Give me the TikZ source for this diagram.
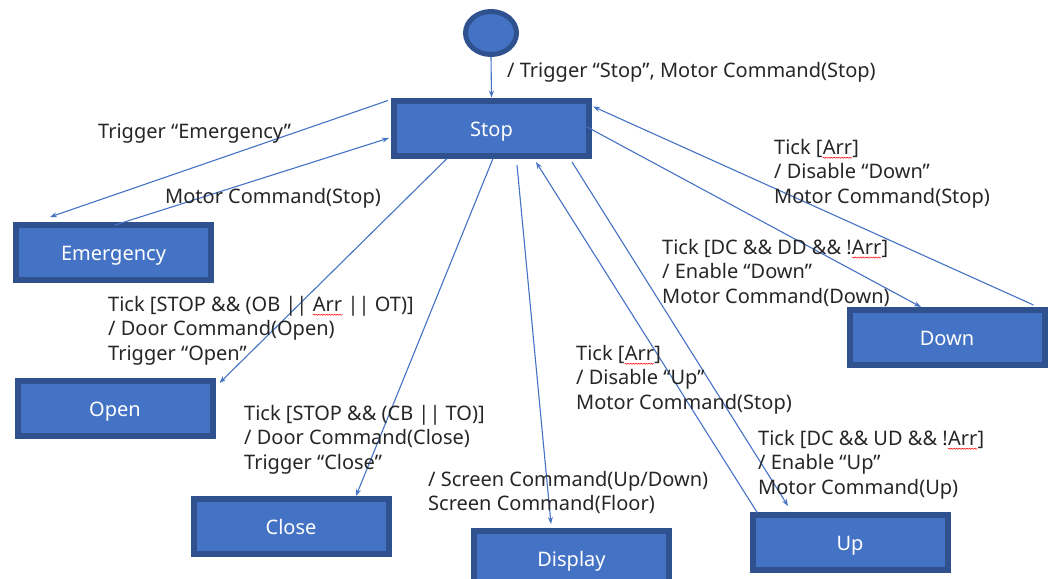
\documentclass[tikz,border=0pt]{standalone}
\usepackage{fontspec}
\setmainfont{Noto Sans}
\usetikzlibrary{arrows.meta,shapes.geometric,decorations.pathmorphing}
\definecolor{boxfill}{HTML}{4472C4}
\definecolor{boxline}{HTML}{2F528F}
\definecolor{wire}{HTML}{4472C4}
\definecolor{ink}{HTML}{262626}
\newcommand\lblfont{\fontsize{20}{24.5}\selectfont}
% red squiggle under a word
\newcommand\squig[1]{\tikz[baseline=(sq.base)]{\node[inner sep=0pt,outer sep=0pt] (sq) {#1};
  \draw[red,line width=0.5pt,decorate,decoration={snake,amplitude=0.6pt,segment length=2.6pt}]
    ([shift={(0,3.5)}]sq.base west) -- ([shift={(0,3.5)}]sq.base east);}}
\begin{document}
\begin{tikzpicture}[x=1pt,y=-1pt,
  state/.style={draw=boxline,fill=boxfill,line width=6pt,minimum width=195pt,
    minimum height=55pt,inner sep=0pt,text height=16pt,text depth=0pt,
    text=white,font=\lblfont},
  trans/.style={draw=wire,line width=1.1pt,-{Stealth[length=7pt,width=5pt]}},
  note/.style={anchor=west,align=left,inner sep=0pt,yshift=-2.5pt,text=ink,font=\lblfont}]
\useasboundingbox (0,0) rectangle (1054,578);
\clip (0,0) rectangle (1054,578);

% states
\node[ellipse,draw=boxline,fill=boxfill,line width=5pt,minimum width=51pt,minimum height=43pt] (init) at (491,33) {};
\node[state] (stop) at (491.5,128) {Stop};
\node[state] (emerg) at (113.5,252.5) {Emergency};
\node[state] (open) at (115,408.5) {Open};
\node[state] (close) at (291,526.5) {Close};
\node[state] (display) at (571.5,558.5) {Display};
\node[state] (up) at (850,542.5) {Up};
\node[state] (down) at (947,337.5) {Down};

% transitions
\draw[trans] (init.south) -- (stop.north);
\draw[trans] ([shift={(-3,3)}]stop.north west) -- ([shift={(37,-5)}]emerg.north west);
\draw[trans] ([shift={(1.5,3)}]emerg.north) -- ([shift={(-2,10)}]stop.west);
\draw[trans] ([shift={(-44.5,0)}]stop.south) -- ([shift={(4,5)}]open.north east);
\draw[trans] ([shift={(1.5,0)}]stop.south) -- ([shift={(65,0)}]close.north);
\draw[trans] ([shift={(25.5,6.5)}]stop.south) -- ([shift={(-20.5,-4)}]display.north);
\draw[trans] ([shift={(8,1)}]up.north west) -- ([shift={(44.5,3.5)}]stop.south);
\draw[trans] ([shift={(80.5,3.5)}]stop.south) -- ([shift={(-62,-6)}]up.north);
\draw[trans] ([shift={(-5,-1)}]stop.east) -- ([shift={(-26,0)}]down.north);
\draw[trans] ([shift={(-14,-2)}]down.north east) -- ([shift={(1,9)}]stop.north east);

% transition labels
\node[note] (l-init) at (507,70) {/ Trigger “Stop”, Motor Command(Stop)};
\node[note] (l-emerg) at (98,131) {Trigger “Emergency”};
\node[note] (l-back) at (165,196) {Motor Command(Stop)};
\node[note] (l-open) at (108,328) {Tick [STOP \&\& (OB || \squig{Arr} || OT)]\\/ Door Command(Open)\\Trigger “Open”};
\node[note] (l-close) at (244,437) {Tick [STOP \&\& (CB || TO)]\\/ Door Command(Close)\\Trigger “Close”};
\node[note] (l-disp) at (428,490) {/ Screen Command(Up/Down)\\Screen Command(Floor)};
\node[note] (l-upstop) at (576,377) {Tick [\squig{Arr}]\\/ Disable “Up”\\Motor Command(Stop)};
\node[note] (l-up) at (758,462) {Tick [DC \&\& UD \&\& !\squig{Arr}]\\/ Enable “Up”\\Motor Command(Up)};
\node[note] (l-down) at (662,270) {Tick [DC \&\& DD \&\& !\squig{Arr}]\\/ Enable “Down”\\Motor Command(Down)};
\node[note] (l-downstop) at (774,171) {Tick [\squig{Arr}]\\/ Disable “Down”\\Motor Command(Stop)};
\end{tikzpicture}
\end{document}
